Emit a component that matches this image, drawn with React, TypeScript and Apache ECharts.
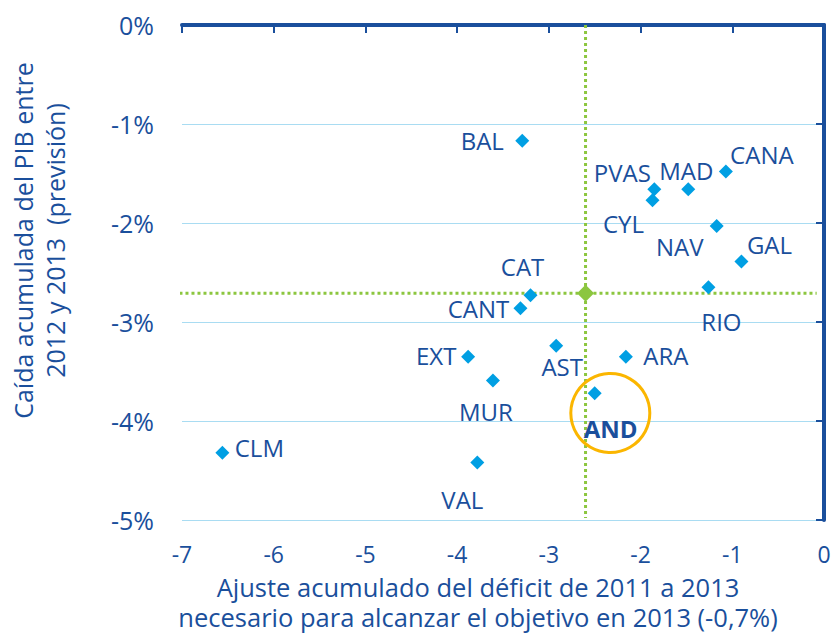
import React, { useEffect, useRef } from "react";
import * as echarts from "echarts";

const regions = ["BAL", "CANA", "MAD", "PVAS", "CYL", "NAV", "GAL", "RIO", "CAT", "CANT", "AST", "EXT", "ARA", "MUR", "AND", "CLM", "VAL"];
const deficitAdjust = [-3.29, -1.07, -1.48, -1.85, -1.87, -1.17, -0.9, -1.26, -3.2, -3.31, -2.92, -3.88, -2.16, -3.61, -2.5, -6.56, -3.78];
const gdpFall = [-1.17, -1.48, -1.66, -1.66, -1.77, -2.03, -2.39, -2.65, -2.73, -2.86, -3.24, -3.35, -3.35, -3.59, -3.72, -4.32, -4.42];
const averagePoint = [-2.6, -2.71];
const highlightCenter = [-2.33, -3.92];
const xTicks = { min: -7, max: 0, interval: 1 };
const yTicks = { min: -5, max: 0, interval: 1 };

// label layout (offset of the label centre from its marker, px)
const labelOffsets: Record<string, [number, number]> = {
  BAL: [-40, 0], CANA: [36, -17], MAD: [-2, -19], PVAS: [-32, -17], CYL: [-29, 23],
  NAV: [-37, 21], GAL: [28, -17], RIO: [13, 34], CAT: [-8, -29], CANT: [-42, 0],
  AST: [6, 21], EXT: [-32, -1], ARA: [40, -1], MUR: [-7, 31], AND: [16, 35],
  CLM: [37, -5], VAL: [-15, 37],
};

const FONT = "Open Sans";
const DARK = "#1a4f9c";
const POINT = "#009fe3";
const GREEN = "#8cc63f";
const SYMBOL = 14;

export default function App() {
  const ref = useRef<HTMLDivElement>(null);
  useEffect(() => {
    if (!ref.current) return;
    const chart = echarts.init(ref.current, null, { renderer: "svg" });
    const points = regions.map((r, i) => ({
      value: [deficitAdjust[i], gdpFall[i]],
      name: r,
      label: {
        show: true,
        position: [SYMBOL / 2, SYMBOL / 2],
        align: "center",
        verticalAlign: "middle",
        offset: labelOffsets[r],
        formatter: r,
        color: DARK,
        fontFamily: FONT,
        fontSize: 24,
        fontWeight: r === "AND" ? "bold" : "normal",
      },
    }));
    chart.setOption({
      animation: false,
      grid: { left: 182, right: 10, top: 25, bottom: 114, outerBoundsMode: "none", containLabel: false },
      xAxis: [
        {
          type: "value",
          position: "bottom",
          ...xTicks,
          axisLine: { show: false },
          axisTick: { show: false },
          splitLine: { show: false },
          axisLabel: { color: DARK, fontFamily: FONT, fontSize: 23, margin: 22 },
          name: "Ajuste acumulado del déficit de 2011 a 2013\nnecesario para alcanzar el objetivo en 2013 (-0,7%)",
          nameLocation: "middle",
          nameGap: 52,
          nameTextStyle: { color: DARK, fontFamily: FONT, fontSize: 25.5, lineHeight: 30, padding: [0, 50, 0, 0] },
        },
        {
          type: "value",
          position: "top",
          ...xTicks,
          axisLine: { show: true, onZero: false, lineStyle: { color: DARK, width: 4 } },
          axisTick: { show: true, inside: true, length: 8, lineStyle: { color: DARK, width: 2 } },
          axisLabel: { show: false },
          splitLine: { show: false },
        },
      ],
      yAxis: [
        {
          type: "value",
          position: "left",
          ...yTicks,
          axisLine: { show: false },
          axisTick: { show: false },
          splitLine: { show: true, lineStyle: { color: "#a9dcf2", width: 1 } },
          axisLabel: { color: DARK, fontFamily: FONT, fontSize: 25, margin: 28, formatter: "{value}%" },
          name: "Caída acumulada del PIB entre\n2012 y 2013\u00a0\u00a0(previsión)",
          nameLocation: "middle",
          nameRotate: 90,
          nameGap: 111,
          nameTextStyle: { color: DARK, fontFamily: FONT, fontSize: 25, lineHeight: 32, padding: [0, 0, 0, 64] },
        },
        {
          type: "value",
          position: "right",
          ...yTicks,
          axisLine: { show: true, onZero: false, lineStyle: { color: DARK, width: 4 } },
          axisTick: { show: true, inside: true, length: 8, lineStyle: { color: DARK, width: 2 } },
          axisLabel: { show: false },
          splitLine: { show: false },
        },
      ],
      series: [
        {
          type: "line",
          data: [
            [averagePoint[0], yTicks.max],
            [averagePoint[0], yTicks.min + 0.02],
          ],
          symbol: "none",
          clip: false,
          lineStyle: { color: GREEN, width: 3, type: [3, 3] },
          z: 1,
        },
        {
          type: "line",
          data: [
            [-7.42, averagePoint[1]],
            [-0.08, averagePoint[1]],
          ],
          symbol: "none",
          clip: false,
          lineStyle: { color: GREEN, width: 3, type: [3, 3] },
          z: 1,
        },
        {
          type: "scatter",
          data: [averagePoint],
          symbol: "diamond",
          symbolSize: 17,
          itemStyle: { color: GREEN, opacity: 1 },
          z: 3,
        },
        {
          type: "scatter",
          data: points,
          symbol: "diamond",
          symbolSize: SYMBOL,
          itemStyle: { color: POINT, opacity: 1 },
          z: 4,
        },
        {
          type: "scatter",
          data: [highlightCenter],
          symbol: "circle",
          symbolSize: 79,
          clip: false,
          itemStyle: { color: "rgba(0,0,0,0)", borderColor: "#fbb600", borderWidth: 3, opacity: 1 },
          silent: true,
          z: 5,
        },
      ],
    });
    return () => chart.dispose();
  }, []);
  return <div ref={ref} style={{ width: 834, height: 634, position: "absolute", left: 0, top: 0 }} />;
}
